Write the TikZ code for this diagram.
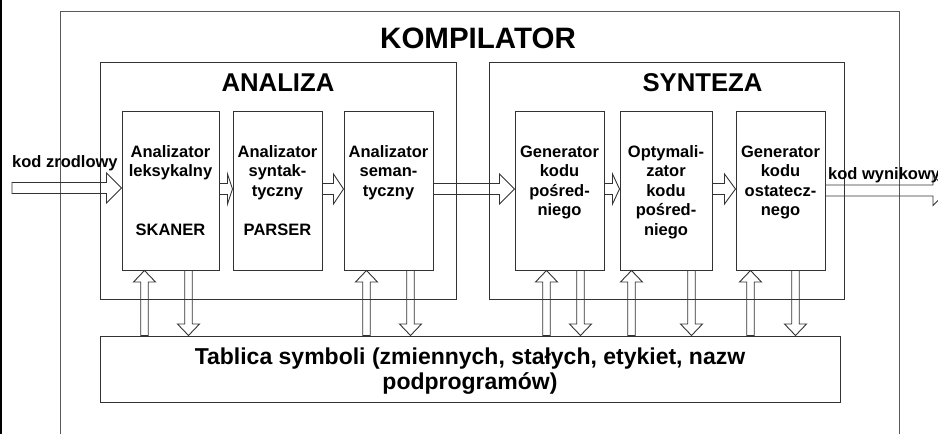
\documentclass[tikz,border=0pt]{standalone}
\usepackage{fontspec}
\setmainfont{Liberation Sans}
\usetikzlibrary{calc}
\newcommand\hblk[3]{%
 \draw[blk] let \p1=#1, \p2=#2 in
  (\x1,\y1+5.5pt) -- (\x2-#3pt,\y1+5.5pt) -- (\x2-#3pt,\y1+15pt) -- (\x2,\y1)
  -- (\x2-#3pt,\y1-15pt) -- (\x2-#3pt,\y1-5.5pt) -- (\x1,\y1-5.5pt) -- cycle;}
\newcommand\upblk[2]{%
 \draw[blk] let \p1=#1, \p2=#2 in
  (\x2-3.75pt,\y1) -- (\x2-3.75pt,\y2-11.5pt) -- (\x2-11pt,\y2-11.5pt) -- (\x2,\y2)
  -- (\x2+11pt,\y2-11.5pt) -- (\x2+3.75pt,\y2-11.5pt) -- (\x2+3.75pt,\y1) -- cycle;}
\newcommand\dnblk[2]{%
 \draw[blk] let \p1=#1, \p2=#2 in
  (\x1-3.75pt,\y1) -- (\x1-3.75pt,\y2+11.5pt) -- (\x1-11pt,\y2+11.5pt) -- (\x1,\y2)
  -- (\x1+11pt,\y2+11.5pt) -- (\x1+3.75pt,\y2+11.5pt) -- (\x1+3.75pt,\y1) -- cycle;}
\begin{document}
\begin{tikzpicture}[x=1pt,y=-1pt,
  box/.style={draw=black!80, line width=1pt, inner sep=0pt},
  stagebox/.style={box, minimum width=89pt, minimum height=159pt},
  blk/.style={draw=black!80, line width=0.9pt, line join=miter},
  lbl/.style={inner sep=0pt, anchor=base, font=\fontsize{16.5}{19.5}\selectfont\bfseries},
  ttl/.style={inner sep=0pt, anchor=base, font=\fontsize{25.7}{28}\selectfont\bfseries}]
\useasboundingbox (0,0) rectangle (938,434);
% left frame edge
\draw[black, line width=1.5pt] (1,0) -- (1,434);
% KOMPILATOR
\coordinate (k1) at (60,440);
\coordinate (k2) at (60,11);
\coordinate (k3) at (899,11);
\coordinate (k4) at (899,440);
\draw[draw=black!65, line width=1pt] (k1) -- (k2) -- (k3) -- (k4);
\node[inner sep=0pt, anchor=base, font=\fontsize{29.5}{31}\selectfont\bfseries] (kt) at (478,48) {KOMPILATOR};
% ANALIZA / SYNTEZA
\node[box, minimum width=356pt, minimum height=237pt] (an) at (278,180.5) {};
\node[box, minimum width=355pt, minimum height=237pt] (sy) at (666.5,180.5) {};
\node[ttl] (ant) at (278,91) {ANALIZA};
\node[ttl] (syt) at (702.5,91) {SYNTEZA};
% stage boxes
\node[stagebox, minimum width=97pt] (b1) at (170.5,190.5) {};
\node[stagebox] (b2) at (277.5,190.5) {};
\node[stagebox] (b3) at (388.5,190.5) {};
\node[stagebox] (b4) at (559.5,190.5) {};
\node[stagebox, minimum width=92pt] (b5) at (666,190.5) {};
\node[stagebox] (b6) at (780.5,190.5) {};
\node[lbl] (t1) at (170.5,157) {\begin{tabular}[t]{@{}c@{}}Analizator\\leksykalny\end{tabular}};
\node[lbl] (t2) at (277.5,157) {\begin{tabular}[t]{@{}c@{}}Analizator\\syntak-\\tyczny\end{tabular}};
\node[lbl] (t3) at (388.5,157) {\begin{tabular}[t]{@{}c@{}}Analizator\\seman-\\tyczny\end{tabular}};
\node[lbl] (t4) at (559.5,157) {\begin{tabular}[t]{@{}c@{}}Generator\\kodu\\pośred-\\niego\end{tabular}};
\node[lbl] (t5) at (666,157) {\begin{tabular}[t]{@{}c@{}}Optymali-\\zator\\kodu\\pośred-\\niego\end{tabular}};
\node[lbl] (t6) at (780.5,157) {\begin{tabular}[t]{@{}c@{}}Generator\\kodu\\ostatecz-\\nego\end{tabular}};
\node[lbl] (s1) at (170.5,235) {SKANER};
\node[lbl] (s2) at (277.5,235) {PARSER};
% symbol table
\node[box, minimum width=740pt, minimum height=66pt] (tab) at (470,369) {};
\node[inner sep=0pt, anchor=base, font=\fontsize{23}{25.7}\selectfont\bfseries] (tabt) at (470,364)
  {\begin{tabular}[t]{@{}c@{}}Tablica symboli (zmiennych, stałych, etykiet, nazw\\podprogramów)\end{tabular}};
% external labels
\node[lbl, anchor=base west] (kin) at (12,167) {kod zrodlowy};
\node[lbl, anchor=base west] (kout) at (828,179) {kod wynikowy};
% horizontal block arrows
\coordinate (in) at (12,188);
\coordinate (out) at (948,190.5);
\coordinate (e0) at ($(b1.west)+(0,-2.5)$);
\coordinate (s1a) at ($(b1.east)+(0,-1.5)$);
\coordinate (e1a) at ($(b2.west)+(0,-1.5)$);
\coordinate (s2a) at ($(b2.east)+(0,-1.5)$);
\coordinate (e2a) at ($(b3.west)+(0,-1.5)$);
\coordinate (s3a) at ($(b3.east)+(0,-1.5)$);
\coordinate (e3a) at ($(b4.west)+(0,-1.5)$);
\coordinate (s4a) at ($(b4.east)+(0,-1.5)$);
\coordinate (e4a) at ($(b5.west)+(0,-1.5)$);
\coordinate (s5a) at ($(b5.east)+(0,-1.5)$);
\coordinate (e5a) at ($(b6.west)+(0,-1.5)$);
\hblk{(in)}{(e0)}{15}
\hblk{(s1a)}{(e1a)}{5}
\hblk{(s2a)}{(e2a)}{10}
\hblk{(s3a)}{(e3a)}{15}
\hblk{(s4a)}{(e4a)}{7}
\hblk{(s5a)}{(e5a)}{11}
\hblk{(b6.east)}{(out)}{15}
% vertical block arrows
\coordinate (u1) at ($(b1.south west)+(23,0)$);
\coordinate (d1) at ($(b1.south west)+(67,0)$);
\coordinate (u3) at ($(b3.south west)+(23,0)$);
\coordinate (d3) at ($(b3.south west)+(67,0)$);
\coordinate (u4) at ($(b4.south west)+(32,0)$);
\coordinate (d4) at ($(b4.south west)+(66,0)$);
\coordinate (u5) at ($(b5.south west)+(12,0)$);
\coordinate (d5) at ($(b5.south west)+(72,0)$);
\coordinate (u6) at ($(b6.south west)+(15,0)$);
\coordinate (d6) at ($(b6.south west)+(60,0)$);
\coordinate (u1t) at (u1 |- tab.north);
\coordinate (d1t) at (d1 |- tab.north);
\coordinate (u3t) at (u3 |- tab.north);
\coordinate (d3t) at (d3 |- tab.north);
\coordinate (u4t) at (u4 |- tab.north);
\coordinate (d4t) at (d4 |- tab.north);
\coordinate (u5t) at (u5 |- tab.north);
\coordinate (d5t) at (d5 |- tab.north);
\coordinate (u6t) at (u6 |- tab.north);
\coordinate (d6t) at (d6 |- tab.north);
\upblk{(u1t)}{(u1)}
\dnblk{(d1)}{(d1t)}
\upblk{(u3t)}{(u3)}
\dnblk{(d3)}{(d3t)}
\upblk{(u4t)}{(u4)}
\dnblk{(d4)}{(d4t)}
\upblk{(u5t)}{(u5)}
\dnblk{(d5)}{(d5t)}
\upblk{(u6t)}{(u6)}
\dnblk{(d6)}{(d6t)}
\end{tikzpicture}
\end{document}
